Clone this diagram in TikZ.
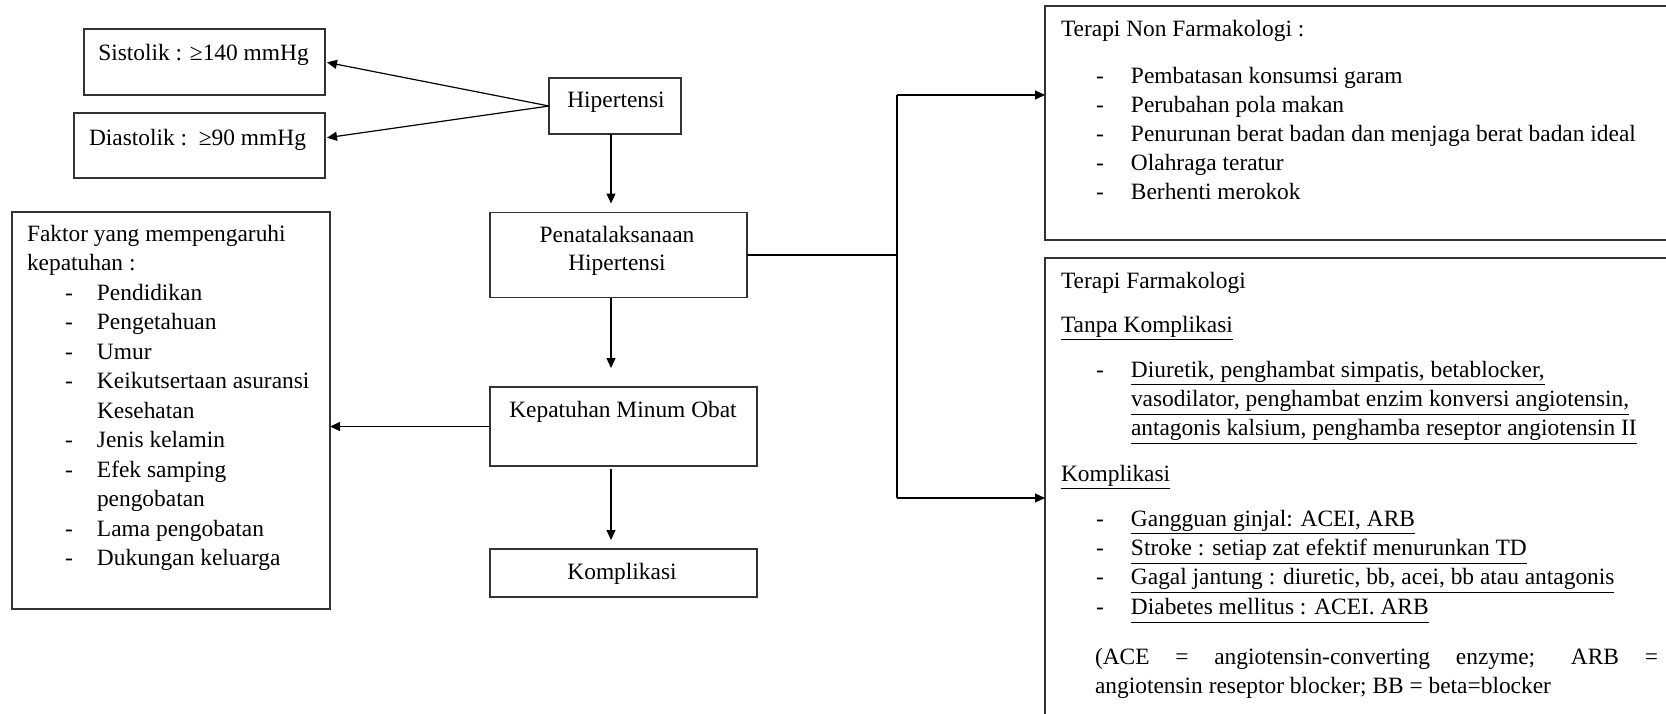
\documentclass[tikz,border=0pt]{standalone}
\usepackage{fontspec}
\setmainfont{Liberation Serif}
\usetikzlibrary{arrows.meta}
\newcommand{\ulx}[1]{\underline{#1\vphantom{gjpy,}}}
\newcommand{\dsh}[1]{\makebox[#1][l]{-}}
\begin{document}
\begin{tikzpicture}[x=0.5pt,y=-0.5pt,
  box/.style={draw=black!80,line width=0.8pt,inner sep=0pt,outer sep=0pt},
  arr/.style={line width=0.6pt,-{Triangle[length=5pt,width=4.5pt]}},
  ln/.style={line width=0.6pt},
  txt/.style={inner sep=0pt,outer sep=0pt,font={\fontsize{11.7}{14.5}\selectfont}}]
\useasboundingbox (0,0) rectangle (1666,713);
\clip (0,0) rectangle (1666,713);
\fill[white] (0,0) rectangle (1666,713);

% boxes
\node[box,minimum width=120.5pt,minimum height=33pt] (sis) at (204.5,62) {};
\node[box,minimum width=125.5pt,minimum height=32.5pt] (dia) at (199.5,145.5) {};
\node[box,minimum width=66pt,minimum height=28pt] (hip) at (615,106) {};
\node[box,minimum width=128.5pt,minimum height=42.5pt] (pen) at (618.5,255) {};
\node[box,minimum width=133.5pt,minimum height=39.5pt] (kep) at (623.5,426.5) {};
\node[box,minimum width=133.5pt,minimum height=24pt] (kom) at (623.5,573) {};
\node[box,minimum width=159pt,minimum height=198.5pt] (fak) at (171,410.5) {};
\node[box,minimum width=327.5pt,minimum height=117pt] (nf) at (1372.5,123) {};
\node[box,minimum width=327.5pt,minimum height=251pt] (fa) at (1372.5,509) {};

% texts
\node[txt,anchor=base] (tsis) at (203.5,60) {Sistolik : ≥140 mmHg};
\node[txt,anchor=base] (tdia) at (197.5,145) {Diastolik :\ \ ≥90 mmHg};
\node[txt,anchor=base] (thip) at (616,107) {Hipertensi};
\node[txt,anchor=base,font={\fontsize{11.7}{14}\selectfont}] (tpen) at (617,242)
  {\begin{tabular}[t]{@{}c@{}}Penatalaksanaan\\Hipertensi\end{tabular}};
\node[txt,anchor=base] (tkep) at (623,417) {Kepatuhan Minum Obat};
\node[txt,anchor=base] (tkom) at (622,579) {Komplikasi};

\node[txt,anchor=base west,font={\fontsize{11.7}{14.75}\selectfont}] (tfak) at (27,241)
  {\begin{tabular}[t]{@{}l@{}}
  Faktor yang mempengaruhi\\
  kepatuhan :\\
  \hspace*{19pt}\dsh{16pt}Pendidikan\\
  \hspace*{19pt}\dsh{16pt}Pengetahuan\\
  \hspace*{19pt}\dsh{16pt}Umur\\
  \hspace*{19pt}\dsh{16pt}Keikutsertaan asuransi\\
  \hspace*{35pt}Kesehatan\\
  \hspace*{19pt}\dsh{16pt}Jenis kelamin\\
  \hspace*{19pt}\dsh{16pt}Efek samping\\
  \hspace*{35pt}pengobatan\\
  \hspace*{19pt}\dsh{16pt}Lama pengobatan\\
  \hspace*{19pt}\dsh{16pt}Dukungan keluarga
  \end{tabular}};

\node[txt,anchor=base west] (tnf) at (1061,36) {Terapi Non Farmakologi :};
\node[txt,anchor=base west] (tnfl) at (1096,83)
  {\begin{tabular}[t]{@{}l@{}}
  \dsh{17.5pt}Pembatasan konsumsi garam\\
  \dsh{17.5pt}Perubahan pola makan\\
  \dsh{17.5pt}Penurunan berat badan dan menjaga berat badan ideal\\
  \dsh{17.5pt}Olahraga teratur\\
  \dsh{17.5pt}Berhenti merokok
  \end{tabular}};

\node[txt,anchor=base west] (tfa) at (1061,288) {Terapi Farmakologi};
\node[txt,anchor=base west] (ttk) at (1061,332) {\ulx{Tanpa Komplikasi}};
\node[txt,anchor=base west] (ttkl) at (1096,377)
  {\begin{tabular}[t]{@{}l@{}}
  \dsh{17.5pt}\ulx{Diuretik, penghambat simpatis, betablocker,}\\
  \hspace*{17.5pt}\ulx{vasodilator, penghambat enzim konversi angiotensin,}\\
  \hspace*{17.5pt}\ulx{antagonis kalsium, penghamba reseptor angiotensin II}
  \end{tabular}};
\node[txt,anchor=base west] (tk) at (1061,481) {\ulx{Komplikasi}};
\node[txt,anchor=base west] (tkl) at (1096,526)
  {\begin{tabular}[t]{@{}l@{}}
  \dsh{17.5pt}\ulx{Gangguan ginjal: ACEI, ARB}\\
  \dsh{17.5pt}\ulx{Stroke : setiap zat efektif menurunkan TD}\\
  \dsh{17.5pt}\ulx{Gagal jantung : diuretic, bb, acei, bb atau antagonis}\\
  \dsh{17.5pt}\ulx{Diabetes mellitus : ACEI. ARB}
  \end{tabular}};
\node[txt,anchor=base west] (tpara) at (1095,664)
  {\begin{tabular}[t]{@{}l@{}}
  \makebox[281.5pt][s]{(ACE = angiotensin-converting enzyme; ARB =}\\
  angiotensin reseptor blocker; BB = beta=blocker
  \end{tabular}};

% connectors
\coordinate (col) at (611,0);
\coordinate (jt) at (897,95);
\coordinate (jb) at (897,498);
\draw[arr,shorten >=1pt] (hip.west) -- (sis.east);
\draw[arr,shorten >=1pt] (hip.west) -- ([yshift=3.75pt]dia.east);
\draw[arr,shorten >=4.5pt] (col |- hip.south) -- (col |- pen.north);
\draw[arr,shorten >=9.5pt] (col |- pen.south) -- (col |- kep.north);
\draw[arr,shorten <=1.5pt,shorten >=4.5pt] (col |- kep.south) -- (col |- kom.north);
\draw[arr] (kep.west) -- (kep.west -| fak.east);
\draw[ln] (pen.east) -- (pen.east -| jt);
\draw[ln] (jt) -- (jb);
\draw[arr] (jt) -- (jt -| nf.west);
\draw[arr] (jb) -- (jb -| fa.west);
\end{tikzpicture}
\end{document}
